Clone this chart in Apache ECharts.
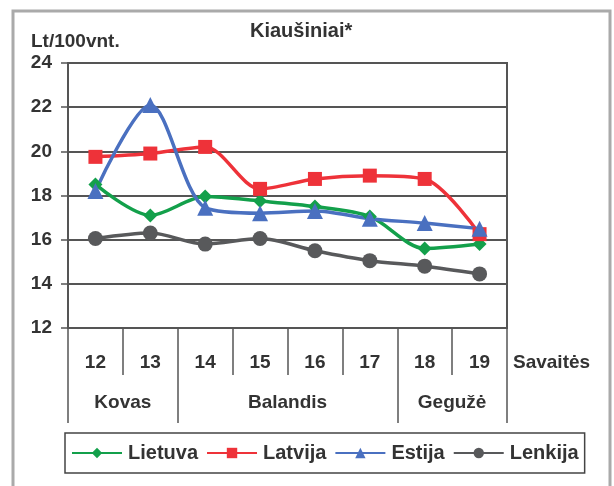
<!DOCTYPE html>
<html>
<head>
<meta charset="utf-8">
<script src="https://cdn.jsdelivr.net/npm/echarts@6/dist/echarts.min.js"></script>
<style>
html,body{margin:0;padding:0;background:#fff;}
#chart{width:614px;height:486px;}
</style>
</head>
<body>
<div id="chart"></div>
<script>
// ---- data ----
const weeks = ['12','13','14','15','16','17','18','19'];
const months = ['Kovas','Balandis','Gegužė'];
const monthSpans = [2, 4, 2];
const lietuva = [18.5, 17.1, 17.95, 17.75, 17.5, 17.05, 15.6, 15.8];
const latvija = [19.75, 19.9, 20.2, 18.3, 18.75, 18.9, 18.75, 16.25];
const estija  = [18.2, 22.1, 17.45, 17.2, 17.3, 16.95, 16.75, 16.5];
const lenkija = [16.05, 16.3, 15.8, 16.05, 15.5, 15.05, 14.8, 14.45];
const yTicks = [12, 14, 16, 18, 20, 22, 24];
const seriesNames = ['Lietuva','Latvija','Estija','Lenkija'];

// month boundaries & centres (in category units)
const monthBounds = [0];
const monthCenters = [];
monthSpans.forEach((s, i) => {
  const start = monthBounds[monthBounds.length - 1];
  monthCenters.push(start + s / 2);
  monthBounds.push(start + s);
});

const FONT = 'Liberation Sans, Arial, sans-serif';
const TXT = '#333';
const AX = '#555';

const chart = echarts.init(document.getElementById('chart'), null, {renderer: 'canvas'});

function mkSeries(name, data, color, symbol, size) {
  return {
    name, type: 'line', data, smooth: 0.3, xAxisIndex: 0,
    symbol, symbolSize: size,
    lineStyle: {color, width: 3.5},
    itemStyle: {color},
    emphasis: {disabled: true}
  };
}

chart.setOption({
  animation: false,
  backgroundColor: '#fff',
  title: [
    {text: 'Kiaušiniai*', left: 245, top: 16,
     textStyle: {fontFamily: FONT, fontSize: 20, fontWeight: 'bold', color: TXT}},
    {text: 'Lt/100vnt.', left: 26, top: 27,
     textStyle: {fontFamily: FONT, fontSize: 19, fontWeight: 'bold', color: TXT}}
  ],
  grid: {left: 68, right: 107, top: 63, bottom: 158, show: true,
         borderColor: AX, borderWidth: 2, containLabel: false},
  legend: {
    data: seriesNames,
    left: 65, top: 433,
    padding: [10, 6, 10, 6],
    itemWidth: 50, itemHeight: 13, itemGap: 8,
    borderColor: '#444', borderWidth: 1.5,
    textStyle: {fontFamily: FONT, fontSize: 20, fontWeight: 'bold', color: TXT, padding: [0,0,0,1]},
    selectedMode: false
  },
  xAxis: [
    {
      type: 'category', data: weeks, boundaryGap: true, position: 'bottom',
      axisLine: {show: true, lineStyle: {color: AX, width: 2}},
      axisTick: {show: true, interval: 0, length: 47, lineStyle: {color: AX, width: 1.5}},
      axisLabel: {interval: 0, margin: 25, fontFamily: FONT, fontSize: 19, fontWeight: 'bold', color: TXT},
      splitLine: {show: false}
    },
    {
      type: 'value', min: 0, max: weeks.length, position: 'bottom',
      axisLine: {show: false},
      splitLine: {show: false},
      axisTick: {show: true, customValues: monthBounds, length: 95, lineStyle: {color: AX, width: 1.5}},
      axisLabel: {
        customValues: monthCenters, margin: 65,
        fontFamily: FONT, fontSize: 19, fontWeight: 'bold', color: TXT,
        formatter: v => { const i = monthCenters.indexOf(v); return i >= 0 ? months[i] : ''; }
      }
    }
  ],
  yAxis: {
    type: 'value', min: yTicks[0], max: yTicks[yTicks.length - 1], interval: 2,
    axisLine: {show: true, lineStyle: {color: AX, width: 2}},
    axisTick: {show: true, length: 7, lineStyle: {color: AX, width: 1.5}},
    axisLabel: {margin: 16, fontFamily: FONT, fontSize: 19, fontWeight: 'bold', color: TXT},
    splitLine: {show: true, lineStyle: {color: AX, width: 2}}
  },
  graphic: [
    {type: 'rect', shape: {x: 13, y: 11, width: 597, height: 490},
     style: {fill: 'none', stroke: '#aaa', lineWidth: 3}, silent: true, z: -1},
    {type: 'text', left: 513, top: 353,
     style: {text: 'Savaitės', font: 'bold 19px Liberation Sans, Arial, sans-serif', fill: TXT}}
  ],
  series: [
    mkSeries('Lietuva', lietuva, '#13a04b', 'diamond', 14),
    mkSeries('Latvija', latvija, '#ee3239', 'rect', 14),
    mkSeries('Estija', estija, '#4a70c0', 'triangle', 16),
    mkSeries('Lenkija', lenkija, '#58595b', 'circle', 15)
  ]
});
</script>
</body>
</html>
